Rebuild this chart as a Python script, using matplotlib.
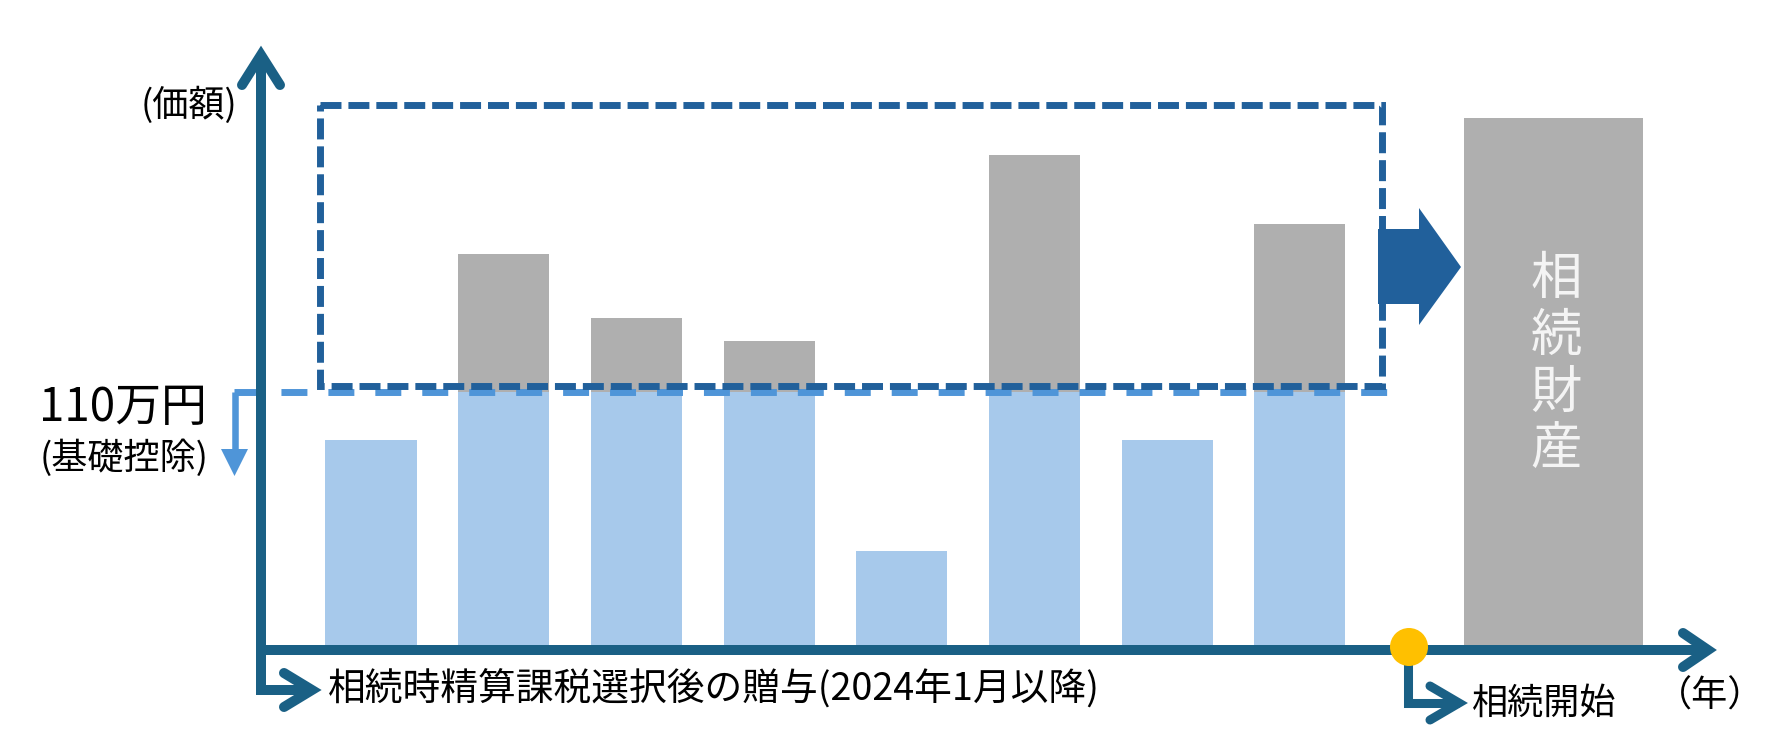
import matplotlib
matplotlib.use('Agg')
import matplotlib.pyplot as plt
import numpy as np
from matplotlib.patches import Polygon, Rectangle, Circle

plt.rcParams['font.family'] = ['Noto Sans CJK JP', 'DejaVu Sans']
plt.rcParams['lines.scale_dashes'] = False

# data: gifts per year (万円), deduction and inherited estate
years = [1, 2, 3, 4, 5, 6, 7, 8]
gifts = [89, 170, 142, 132, 41, 213, 89, 183]
deduction = 110
estate_pos = 9.91
estate = 229

xlabel_text = '相続時精算課税選択後の贈与(2024年1月以降)'
estate_label = '相続財産'

AXIS = '#1A6085'
DARK = '#21609B'
LIGHT = '#A7C9EB'
MID = '#4F95D8'
GRAY = '#AFAFAF'

W, H = 1782, 754
fig = plt.figure(figsize=(W / 100, H / 100), dpi=100)

# data axes (bars)
ax = fig.add_axes([0, 0, 1, 1])
ax.set_xlim(-1.7958, 11.6326)
ax.set_ylim(-47.39, 280.43)
ax.axis('off')

g = np.array(gifts, dtype=float)
blue = np.minimum(g, deduction)
grey = np.maximum(g - deduction, 0)
ax.bar(years, blue, width=0.686, color=LIGHT, zorder=2)
ax.bar(years, grey, bottom=blue, width=0.686, color=GRAY, zorder=2)
ax.bar([estate_pos], [estate], width=1.35, color=GRAY, zorder=2)
for k, ch in enumerate(estate_label):
    ax.text(estate_pos + 0.02, 159 - k * 24.8, ch, color='#F4F4F4', fontsize=37,
            ha='center', va='center', zorder=3)

# deduction line
ax.plot([-0.03, 8.66], [deduction, deduction], color=MID, lw=5,
        dashes=(18.7, 15.1), zorder=4)

# decoration layer in pixel coordinates
dx = fig.add_axes([0, 0, 1, 1])
dx.set_xlim(0, W)
dx.set_ylim(H, 0)
dx.axis('off')
dx.patch.set_alpha(0)

# bracket + down arrow for 110万円
dx.plot([234.5, 234.5], [392, 452], color=MID, lw=4.7, solid_capstyle='butt')
dx.add_patch(Polygon([(221, 449), (248, 449), (234.5, 476)], closed=True,
                     color=MID, lw=0))

# dashed box over excess part
dx.add_patch(Rectangle((320, 105), 1062, 281, fill=False, ec=DARK, lw=5,
                       ls=(0, (15.1, 5.0)), zorder=5))

# block arrow
dx.add_patch(Polygon([(1378, 229), (1419, 229), (1419, 208), (1461, 267),
                      (1419, 325), (1419, 304), (1378, 304)], closed=True,
                     color=DARK, lw=0, zorder=6))

# axes with arrows
dx.plot([261, 261, 312], [55, 690, 690], color=AXIS, lw=7.2,
        solid_joinstyle='miter', solid_capstyle='butt')
dx.plot([242, 261, 280], [85, 55, 85], color=AXIS, lw=7.2,
        solid_joinstyle='miter', solid_capstyle='round')
dx.plot([284, 312, 284], [673, 690, 707], color=AXIS, lw=7.2,
        solid_joinstyle='miter', solid_capstyle='round')
dx.plot([256, 1708], [650, 650], color=AXIS, lw=7.2, solid_capstyle='butt')
dx.plot([1683, 1708, 1683], [633, 650, 667], color=AXIS, lw=7.2,
        solid_joinstyle='miter', solid_capstyle='round')

# inheritance start marker
dx.plot([1408, 1408, 1459], [647, 703, 703], color=AXIS, lw=6.5,
        solid_joinstyle='miter', solid_capstyle='butt')
dx.plot([1430, 1459, 1430], [686, 703, 720], color=AXIS, lw=6.5,
        solid_joinstyle='miter', solid_capstyle='round')
dx.add_patch(Circle((1409, 647), 19, color='#FFC000', lw=0, zorder=7))

# texts
dx.text(189, 105, '(価額)', fontsize=26, ha='center', va='center')
dx.text(123, 408, '110万円', fontsize=33, ha='center', va='center')
dx.text(124, 458, '(基礎控除)', fontsize=26, ha='center', va='center')
dx.text(328, 690, xlabel_text, fontsize=27.2, ha='left', va='center')
dx.text(1472, 704, '相続開始', fontsize=26, ha='left', va='center')
dx.text(1710, 697, '（年）', fontsize=26, ha='center', va='center')

fig.savefig('out.png', dpi=100)
